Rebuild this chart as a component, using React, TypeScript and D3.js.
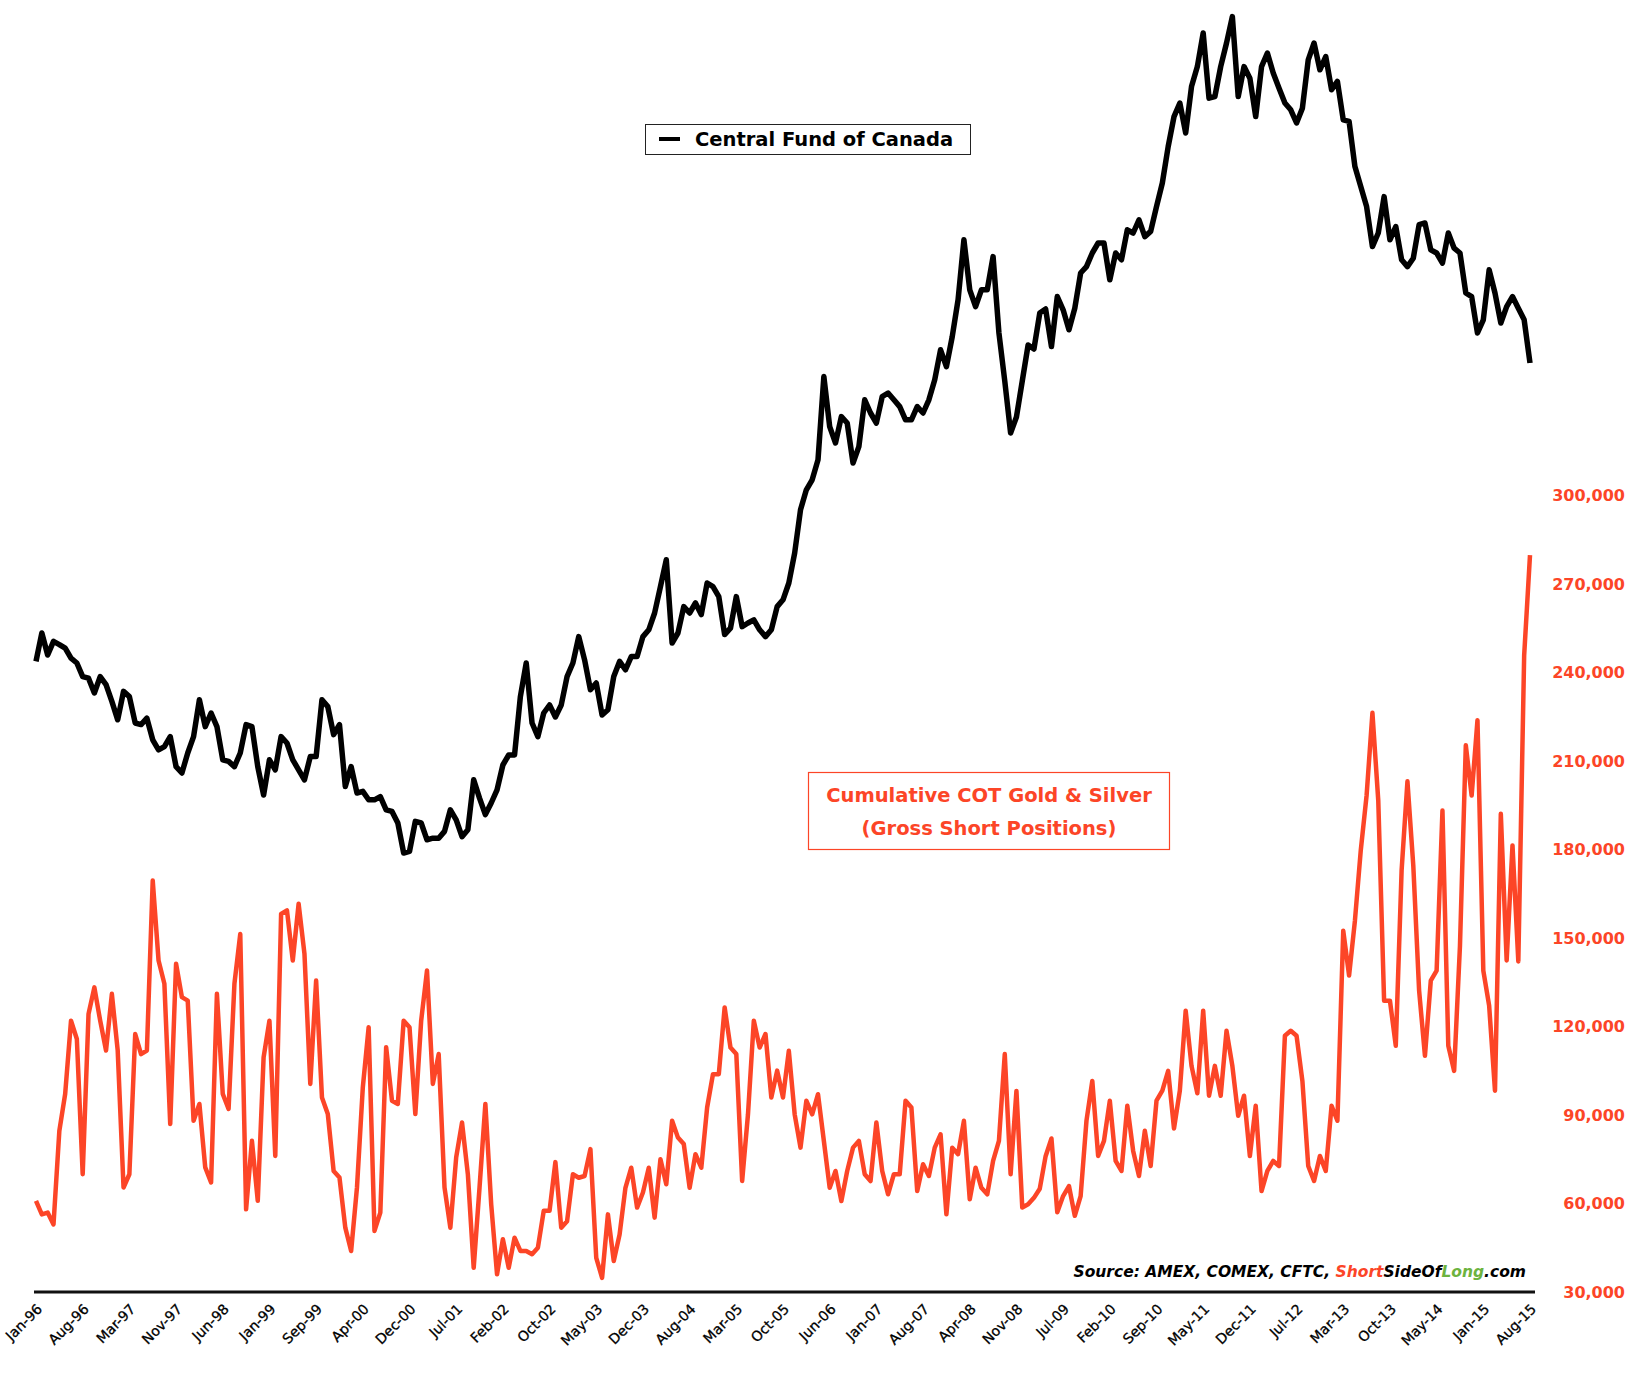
import React, { useEffect, useRef } from "react";
import * as d3 from "d3";

// x axis labels, one every 32 weeks
const tickLabels = [
	"Jan-96", "Aug-96", "Mar-97", "Nov-97", "Jun-98", "Jan-99", "Sep-99", "Apr-00",
	"Dec-00", "Jul-01", "Feb-02", "Oct-02", "May-03", "Dec-03", "Aug-04", "Mar-05",
	"Oct-05", "Jun-06", "Jan-07", "Aug-07", "Apr-08", "Nov-08", "Jul-09", "Feb-10",
	"Sep-10", "May-11", "Dec-11", "Jul-12", "Mar-13", "Oct-13", "May-14", "Jan-15",
	"Aug-15",
];

// Central Fund of Canada, sampled every 4 weeks from Jan-96 (no axis shown)
const cefPrice = [
	8.49, 9.20, 8.65, 8.99, 8.91, 8.82, 8.57, 8.45,
	8.11, 8.07, 7.70, 8.11, 7.91, 7.49, 7.03, 7.74,
	7.61, 6.95, 6.91, 7.07, 6.53, 6.28, 6.36, 6.61,
	5.86, 5.70, 6.20, 6.61, 7.53, 6.86, 7.20, 6.86,
	6.03, 5.99, 5.86, 6.20, 6.91, 6.86, 5.86, 5.15,
	6.03, 5.78, 6.61, 6.45, 6.03, 5.78, 5.53, 6.11,
	6.11, 7.53, 7.36, 6.66, 6.91, 5.36, 5.86, 5.20,
	5.24, 5.03, 5.03, 5.11, 4.78, 4.74, 4.45, 3.70,
	3.74, 4.49, 4.45, 4.03, 4.07, 4.07, 4.24, 4.78,
	4.53, 4.11, 4.28, 5.53, 5.07, 4.66, 4.95, 5.28,
	5.90, 6.15, 6.15, 7.61, 8.45, 6.95, 6.61, 7.20,
	7.40, 7.10, 7.40, 8.11, 8.45, 9.11, 8.53, 7.78,
	7.95, 7.15, 7.28, 8.11, 8.49, 8.28, 8.61, 8.61,
	9.11, 9.28, 9.70, 10.36, 11.03, 8.95, 9.20, 9.86,
	9.70, 9.95, 9.66, 10.45, 10.36, 10.11, 9.16, 9.32,
	10.11, 9.36, 9.45, 9.53, 9.28, 9.11, 9.28, 9.86,
	10.03, 10.45, 11.20, 12.28, 12.78, 13.03, 13.53, 15.61,
	14.36, 13.95, 14.61, 14.45, 13.45, 13.86, 15.03, 14.70,
	14.45, 15.11, 15.20, 15.03, 14.86, 14.53, 14.53, 14.86,
	14.70, 15.03, 15.53, 16.28, 15.86, 16.61, 17.53, 19.03,
	17.78, 17.36, 17.78, 17.78, 18.61, 16.70, 15.50, 14.20,
	14.60, 15.50, 16.40, 16.30, 17.20, 17.30, 16.36, 17.61,
	17.28, 16.78, 17.32, 18.20, 18.36, 18.70, 18.95, 18.95,
	18.03, 18.70, 18.53, 19.28, 19.20, 19.53, 19.11, 19.24,
	19.86, 20.45, 21.36, 22.11, 22.45, 21.70, 22.86, 23.36,
	24.20, 22.57, 22.61, 23.36, 23.95, 24.61, 22.61, 23.36,
	23.07, 22.11, 23.36, 23.70, 23.20, 22.82, 22.45, 22.28,
	21.95, 22.32, 23.53, 23.95, 23.28, 23.61, 22.78, 22.99,
	22.03, 21.99, 20.86, 20.36, 19.86, 18.86, 19.20, 20.11,
	19.03, 19.36, 18.53, 18.36, 18.57, 19.41, 19.45, 18.78,
	18.70, 18.45, 19.20, 18.82, 18.70, 17.70, 17.61, 16.70,
	17.03, 18.28, 17.70, 16.95, 17.36, 17.61, 17.32, 17.03,
	15.95,
];

// Cumulative COT gold & silver gross shorts, thousands, same dates
const cotShorts = [
	60.9, 56.3, 56.9, 52.9, 84.6, 97.1, 121.9, 115.7,
	69.9, 124.2, 133.2, 121.9, 111.8, 131.0, 111.8, 65.4,
	69.9, 117.4, 110.6, 111.8, 169.4, 142.3, 134.4, 86.9,
	141.2, 129.9, 128.7, 88.0, 93.7, 72.2, 67.1, 131.0,
	97.1, 92.0, 134.4, 151.3, 58.0, 81.2, 60.9, 109.5,
	121.9, 76.1, 158.1, 159.3, 142.3, 161.5, 144.6, 100.5,
	135.5, 95.9, 90.3, 71.0, 68.8, 51.8, 43.9, 65.4,
	99.3, 119.7, 50.7, 56.9, 112.9, 94.8, 93.7, 121.9,
	119.7, 90.3, 121.9, 138.9, 100.5, 110.6, 65.4, 51.8,
	75.6, 87.4, 69.9, 38.2, 65.4, 93.7, 59.7, 36.0,
	47.9, 38.2, 48.4, 43.9, 43.9, 42.8, 45.0, 57.5,
	57.5, 74.0, 51.8, 54.0, 69.9, 68.7, 69.3, 78.4,
	41.6, 34.8, 56.3, 40.5, 49.5, 65.3, 72.1, 58.6,
	63.7, 72.1, 55.2, 75.0, 66.5, 88.0, 82.3, 80.1,
	65.3, 76.7, 72.1, 92.5, 103.8, 103.8, 126.4, 112.8,
	110.6, 67.6, 90.2, 121.9, 112.8, 117.4, 95.9, 105.0,
	95.9, 111.7, 90.2, 78.9, 94.8, 90.2, 97.0, 81.2,
	65.3, 71.0, 60.8, 71.0, 78.9, 81.2, 69.9, 67.6,
	87.4, 71.0, 63.1, 69.9, 69.9, 94.8, 92.5, 64.2,
	73.3, 69.3, 78.9, 83.4, 56.3, 78.9, 76.7, 88.0,
	61.4, 72.1, 65.3, 63.1, 74.4, 81.2, 110.6, 69.9,
	98.1, 58.6, 59.7, 61.9, 65.0, 76.0, 82.0, 57.0,
	62.5, 65.9, 55.8, 62.5, 88.0, 101.5, 76.1, 81.2,
	94.8, 74.4, 71.0, 93.1, 77.8, 69.3, 84.6, 72.7,
	94.8, 98.2, 104.9, 85.4, 98.2, 125.3, 106.6, 97.3,
	125.3, 96.5, 106.6, 96.5, 118.5, 106.6, 89.7, 96.5,
	76.1, 93.1, 64.2, 71.0, 74.4, 72.7, 116.8, 118.5,
	116.8, 101.5, 72.7, 67.6, 76.1, 71.0, 93.1, 88.0,
	152.4, 137.2, 155.8, 179.6, 198.2, 226.2, 196.5, 128.7,
	128.7, 113.4, 172.8, 203.0, 174.5, 132.1, 110.0, 135.5,
	138.9, 193.1, 113.4, 104.9, 147.3, 215.2, 198.2, 223.7,
	138.9, 127.0, 98.2, 192.0, 142.3, 181.3, 142.0, 245.7,
	279.6,
];

const rightTicks = [30, 60, 90, 120, 150, 180, 210, 240, 270, 300];

const W = 1644;
const H = 1376;
const RED = "#FC4527";
const GREEN = "#6DB33F";
const FONT = "'DejaVu Sans', Verdana, sans-serif";

const App = () => {
	const svgRef = useRef(null);

	useEffect(() => {
		const svg = d3.select(svgRef.current);
		svg.selectAll("*").remove();

		const start = new Date(1996, 0, 5);
		const dateAt = (k) => d3.timeDay.offset(start, k * 28);

		const x = d3
			.scaleTime()
			.domain([start, dateAt(cefPrice.length - 1)])
			.range([36, 1530]);
		const yCef = d3.scaleLinear().domain([0, 25]).range([1001, 1]);
		const yCot = d3.scaleLinear().domain([30, 300]).range([1292, 495]);

		// bottom axis line
		svg.append("line")
			.attr("x1", 34)
			.attr("x2", 1535)
			.attr("y1", 1292)
			.attr("y2", 1292)
			.attr("stroke", "#111")
			.attr("stroke-width", 3);

		// rotated date labels
		svg.append("g")
			.selectAll("text")
			.data(tickLabels)
			.join("text")
			.attr("transform", (d, i) => `translate(${x(dateAt(i * 8)) + 7},1310) rotate(-45)`)
			.attr("text-anchor", "end")
			.attr("font-family", FONT)
			.attr("font-size", 14)
			.attr("fill", "#000")
			.attr("stroke", "#000")
			.attr("stroke-width", 0.3)
			.text((d) => d);

		// right axis labels
		svg.append("g")
			.selectAll("text")
			.data(rightTicks)
			.join("text")
			.attr("x", 1625)
			.attr("y", (d) => yCot(d) + 6)
			.attr("text-anchor", "end")
			.attr("font-family", FONT)
			.attr("font-weight", "bold")
			.attr("font-size", 16)
			.attr("fill", RED)
			.text((d) => d3.format(",")(d * 1000));

		const lineCef = d3
			.line()
			.x((d, i) => x(dateAt(i)))
			.y((d) => yCef(d));
		const lineCot = d3
			.line()
			.x((d, i) => x(dateAt(i)))
			.y((d) => yCot(d));

		svg.append("path")
			.datum(cotShorts)
			.attr("d", lineCot)
			.attr("fill", "none")
			.attr("stroke", RED)
			.attr("stroke-width", 4.5)
			.attr("stroke-linejoin", "round");

		svg.append("path")
			.datum(cefPrice)
			.attr("d", lineCef)
			.attr("fill", "none")
			.attr("stroke", "#000")
			.attr("stroke-width", 5.5)
			.attr("stroke-linejoin", "round");

		// legend for the black line
		const lg = svg.append("g");
		lg.append("rect")
			.attr("x", 645.5)
			.attr("y", 124.5)
			.attr("width", 325)
			.attr("height", 30)
			.attr("fill", "#fff")
			.attr("stroke", "#222");
		lg.append("line")
			.attr("x1", 659)
			.attr("x2", 680)
			.attr("y1", 139)
			.attr("y2", 139)
			.attr("stroke", "#000")
			.attr("stroke-width", 4);
		lg.append("text")
			.attr("x", 695)
			.attr("y", 146)
			.attr("font-family", FONT)
			.attr("font-weight", "bold")
			.attr("font-size", 19.5)
			.text("Central Fund of Canada");

		// red annotation box
		const ann = svg.append("g");
		ann.append("rect")
			.attr("x", 808.5)
			.attr("y", 772.5)
			.attr("width", 361)
			.attr("height", 77)
			.attr("fill", "#fff")
			.attr("stroke", RED)
			.attr("stroke-width", 1.2);
		ann.selectAll("text")
			.data(["Cumulative COT Gold & Silver", "(Gross Short Positions)"])
			.join("text")
			.attr("x", 989)
			.attr("y", (d, i) => 801.5 + i * 33)
			.attr("text-anchor", "middle")
			.attr("font-family", FONT)
			.attr("font-weight", "bold")
			.attr("font-size", 19.5)
			.attr("fill", RED)
			.text((d) => d);

		// source note
		const src = svg.append("text")
			.attr("x", 1526)
			.attr("y", 1277)
			.attr("text-anchor", "end")
			.attr("font-family", FONT)
			.attr("font-weight", "bold")
			.attr("font-style", "italic")
			.attr("font-size", 15.5);
		src.append("tspan").attr("fill", "#000").text("Source: AMEX, COMEX, CFTC, ");
		src.append("tspan").attr("fill", RED).text("Short");
		src.append("tspan").attr("fill", "#000").text("SideOf");
		src.append("tspan").attr("fill", GREEN).text("Long");
		src.append("tspan").attr("fill", "#000").text(".com");
	}, []);

	return (
		<div style={{ width: W, height: H, overflow: "hidden" }}>
			<style>{"body{margin:0}"}</style>
			<svg ref={svgRef} width={W} height={H} style={{ display: "block", background: "#fff" }} />
		</div>
	);
};

export default App;
